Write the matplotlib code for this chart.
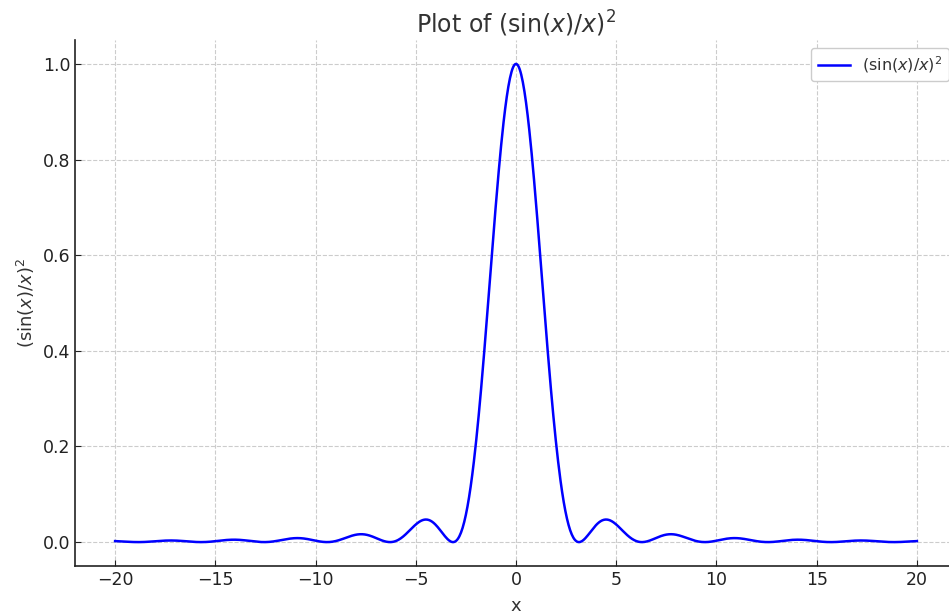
import numpy as np
import matplotlib
matplotlib.use("Agg")
import matplotlib.pyplot as plt

# Data: the plotted function (sin(x)/x)^2 over x in [-20, 20]
x_min, x_max = -20, 20
x_values = np.linspace(x_min, x_max, 1000)
y_values = np.sinc(x_values / np.pi) ** 2

x_ticks = [-20, -15, -10, -5, 0, 5, 10, 15, 20]
y_ticks = [0.0, 0.2, 0.4, 0.6, 0.8, 1.0]

plt.rcParams['font.family'] = ['DejaVu Sans']
text_color = '#333333'

fig = plt.figure(figsize=(9.49, 6.15), dpi=100)
ax = fig.add_axes([75 / 949, 1 - 566 / 615, (957 - 75) / 949, (566 - 40) / 615])

ax.plot(x_values, y_values, color='blue', linewidth=1.8, label=r'$(\sin(x)/x)^2$')
ax.set_xlim(-22, 22)
ax.set_ylim(-0.05, 1.05)
ax.set_xticks(x_ticks)
ax.set_yticks(y_ticks)
ax.set_xticklabels([f'{t:d}'.replace('-', '\u2212') for t in x_ticks])
ax.set_yticklabels([f'{t:.1f}' for t in y_ticks])

ax.grid(True, linestyle='--', color='#cccccc', linewidth=0.8)
ax.tick_params(direction='in', labelsize=12.5, colors='#222222', length=4)
for s in ['top', 'right']:
    ax.spines[s].set_visible(False)
for s in ['left', 'bottom']:
    ax.spines[s].set_color('#222222')
    ax.spines[s].set_linewidth(1.2)

ax.set_title(r'Plot of $(\sin(x)/x)^2$', fontsize=17, color=text_color, pad=5)
ax.set_xlabel('x', fontsize=13, color=text_color, labelpad=6)
ax.set_ylabel(r'$(\sin(x)/x)^2$', fontsize=13, color=text_color)

leg = ax.legend(loc='upper right', fontsize=11.5, framealpha=1, edgecolor='#cccccc')
for t in leg.get_texts():
    t.set_color(text_color)

fig.savefig('out.png', dpi=100)
